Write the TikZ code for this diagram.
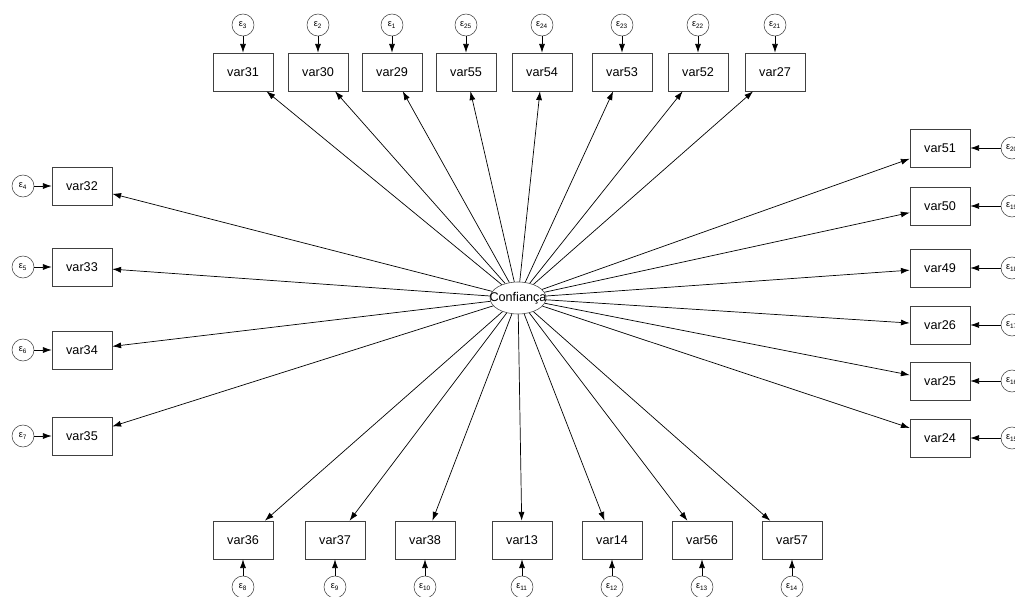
\documentclass[tikz,border=0pt]{standalone}
\usepackage{fontspec}
\setmainfont{Liberation Sans}
\usetikzlibrary{arrows.meta,shapes.geometric}
\tikzset{
  obs/.style={draw=black!75, minimum width=1.5cm, minimum height=0.95cm, inner sep=0pt, font=\fontsize{9}{10}\selectfont},
  err/.style={draw=black!75, circle, minimum size=0.55cm, inner sep=0pt, font=\fontsize{6.5}{7}\selectfont},
  lat/.style={draw=black!75, ellipse, minimum width=1.4cm, minimum height=0.8cm, inner xsep=-8pt, inner ysep=0pt, font=\fontsize{9}{10}\selectfont},
  path/.style={->, black, line width=0.5pt}
}
\begin{document}
\begin{tikzpicture}[x=0.025cm, y=-0.025cm, >={Latex[length=2.2mm,width=1.5mm]}]
\useasboundingbox (0,0) rectangle (1015,597);
\clip (0,0) rectangle (1015,597);
\node[lat] (conf) at (518,298) {Confiança};
% top row
\foreach \n/\x/\e in {31/243/3, 30/318/2, 29/392/1, 55/466/25, 54/542/24, 53/622/23, 52/698/22, 27/775/21}{
  \node[obs] (v\n) at (\x,72) {var\n};
  \node[err] (e\e) at (\x,25) {ε\textsubscript{\e}};
  \draw[path] (e\e) -- (v\n);
  \draw[path] (conf) -- (v\n);
}
% left column
\foreach \n/\y/\e in {32/186/4, 33/267/5, 34/350/6, 35/436/7}{
  \node[obs] (v\n) at (82,\y) {var\n};
  \node[err] (e\e) at (23,\y) {ε\textsubscript{\e}};
  \draw[path] (e\e) -- (v\n);
  \draw[path] (conf) -- (v\n);
}
% right column
\foreach \n/\y/\e in {51/148/20, 50/206/19, 49/268/18, 26/325/17, 25/381/16, 24/438/15}{
  \node[obs] (v\n) at (940,\y) {var\n};
  \node[err] (e\e) at (1012,\y) {ε\textsubscript{\e}};
  \draw[path] (e\e) -- (v\n);
  \draw[path] (conf) -- (v\n);
}
% bottom row
\foreach \n/\x/\e in {36/243/8, 37/335/9, 38/425/10, 13/522/11, 14/612/12, 56/702/13, 57/792/14}{
  \node[obs] (v\n) at (\x,540) {var\n};
  \node[err] (e\e) at (\x,587) {ε\textsubscript{\e}};
  \draw[path] (e\e) -- (v\n);
  \draw[path] (conf) -- (v\n);
}
\end{tikzpicture}
\end{document}
